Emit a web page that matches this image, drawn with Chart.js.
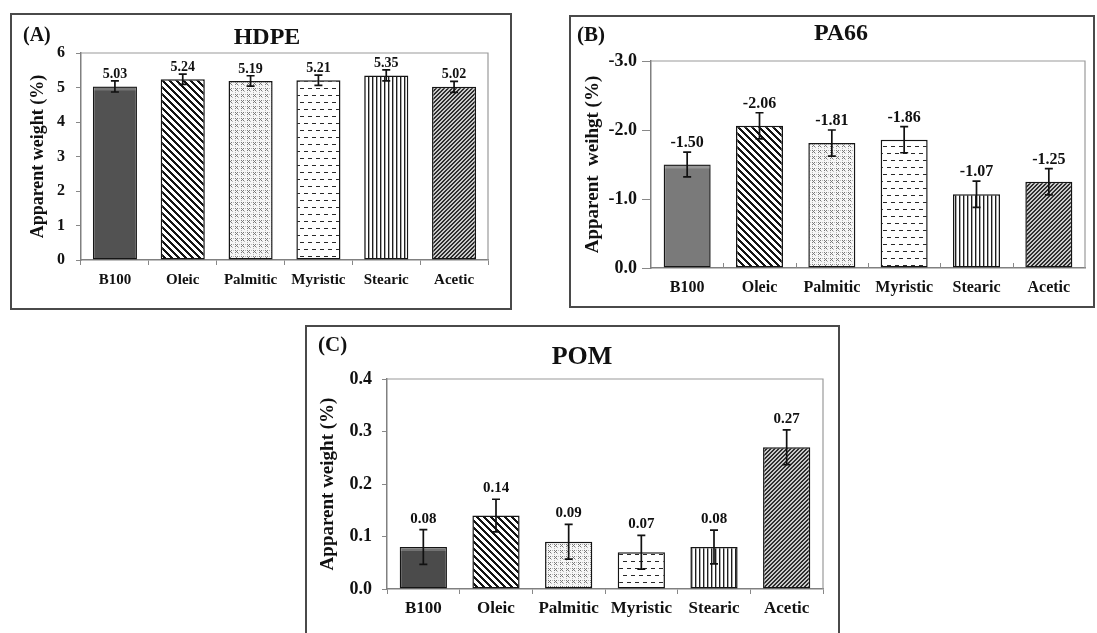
<!DOCTYPE html>
<html>
<head>
<meta charset="utf-8">
<script src="https://cdn.jsdelivr.net/npm/chart.js@4.4.1/dist/chart.umd.min.js"></script>
<style>
  html, body { margin: 0; padding: 0; background: #fff; width: 1097px; height: 633px; overflow: hidden; }
  .panel { position: absolute; box-sizing: border-box; border: 2px solid #4a4a4a; background: #fff; }
  .panel canvas { position: absolute; left: 0; top: 0; }
</style>
</head>
<body>
<div class="panel" style="left:10px;top:13px;width:502px;height:297px"><canvas id="cA" width="498" height="293" style="width:498px;height:293px"></canvas></div>
<div class="panel" style="left:569px;top:15px;width:526px;height:293px"><canvas id="cB" width="522" height="289" style="width:522px;height:289px"></canvas></div>
<div class="panel" style="left:305px;top:325px;width:535px;height:330px"><canvas id="cC" width="531" height="326" style="width:531px;height:326px"></canvas></div>
<script>
// ---- data ----
const categories = ['B100', 'Oleic', 'Palmitic', 'Myristic', 'Stearic', 'Acetic'];

const hdpeValues = [5.03, 5.24, 5.19, 5.21, 5.35, 5.02];
const hdpeErrors = [0.16, 0.15, 0.15, 0.15, 0.16, 0.16];
const hdpeTicks  = [0, 1, 2, 3, 4, 5, 6];

const pa66Values = [-1.50, -2.06, -1.81, -1.86, -1.07, -1.25];
const pa66Errors = [0.18, 0.19, 0.19, 0.19, 0.19, 0.19];
const pa66Ticks  = [-3.0, -2.0, -1.0, 0.0];

const pomValues = [0.08, 0.14, 0.09, 0.07, 0.08, 0.27];
const pomErrors = [0.033, 0.031, 0.033, 0.032, 0.032, 0.033];
const pomTicks  = [0.0, 0.1, 0.2, 0.3, 0.4];

const SERIF = '"Liberation Serif", "Times New Roman", serif';

// ---- fill patterns for the bars ----
function tile(w, h, paint) {
  const c = document.createElement('canvas');
  c.width = w; c.height = h;
  const g = c.getContext('2d');
  paint(g, w, h);
  return c.getContext('2d').createPattern(c, 'repeat');
}
function pixelTile(w, h, fn) {
  return tile(w, h, (g) => {
    const img = g.createImageData(w, h);
    for (let y = 0; y < h; y++) for (let x = 0; x < w; x++) {
      const v = fn(x, y);
      const k = (y * w + x) * 4;
      img.data[k] = img.data[k + 1] = img.data[k + 2] = v; img.data[k + 3] = 255;
    }
    g.putImageData(img, 0, 0);
  });
}
function makeFills(solid) {
  const wideStripes = pixelTile(7, 7, (x, y) => (((x - y) % 7 + 7) % 7) < 3 ? 20 : 255);
  const crosses = pixelTile(6, 6, (x, y) => {
    const onX = (x === y || x + y === 4) && x >= 1 && x <= 3 && y >= 1 && y <= 3;
    if (onX) return 120;
    if ((x === 4 && y === 4) || (x === 5 && y === 1) || (x === 1 && y === 5)) return 185;
    return 246;
  });
  const dashes = pixelTile(8, 14, (x, y) => {
    if (y === 3 && x < 4) return 40;
    if (y === 10 && x >= 4) return 40;
    return 255;
  });
  const verticals = pixelTile(4, 4, (x) => x === 0 ? 30 : (x === 1 ? 170 : 255));
  const fineHatch = pixelTile(4, 4, (x, y) => ((x + y) % 4) < 2 ? 45 : 200);
  return [solid, wideStripes, crosses, dashes, verticals, fineHatch];
}

// ---- plugins ----
const errorBars = {
  id: 'errorBars',
  afterDatasetsDraw(chart, args, opts) {
    const { ctx } = chart;
    const yScale = chart.scales.y;
    const ds = chart.data.datasets[0];
    const meta = chart.getDatasetMeta(0);
    ctx.save();
    // soft highlight along the top of the solid bar
    const first = meta.data[0];
    if (first) {
      const top = Math.min(first.y, first.base);
      const half = first.width / 2;
      ctx.fillStyle = 'rgba(255,255,255,0.22)';
      ctx.fillRect(first.x - half + 1, top + 1, first.width - 2, 3);
    }
    meta.data.forEach((bar, i) => {
      const v = ds.data[i], e = opts.errors[i];
      const p1 = yScale.getPixelForValue(v + e);
      const p2 = yScale.getPixelForValue(v - e);
      const top = Math.min(p1, p2), bot = Math.max(p1, p2);
      ctx.strokeStyle = '#111';
      ctx.lineWidth = 1.7;
      ctx.beginPath();
      ctx.moveTo(bar.x, top); ctx.lineTo(bar.x, bot);
      ctx.moveTo(bar.x - opts.cap, top); ctx.lineTo(bar.x + opts.cap, top);
      ctx.moveTo(bar.x - opts.cap, bot); ctx.lineTo(bar.x + opts.cap, bot);
      ctx.stroke();
      ctx.fillStyle = '#111';
      ctx.font = 'bold ' + opts.fontSize + 'px ' + SERIF;
      ctx.textAlign = 'center';
      ctx.textBaseline = 'alphabetic';
      ctx.fillText(v.toFixed(2), bar.x, top - opts.gap);
    });
    ctx.restore();
  }
};

const plotFrame = {
  id: 'plotFrame',
  afterDraw(chart, args, opts) {
    const { ctx, chartArea: a } = chart;
    ctx.save();
    ctx.strokeStyle = '#9a9a9a';
    ctx.lineWidth = 1.2;
    ctx.beginPath();
    ctx.moveTo(a.left, a.top); ctx.lineTo(a.right, a.top); ctx.lineTo(a.right, a.bottom);
    ctx.stroke();
    if (opts.innerTicks) {
      const x = chart.scales.x;
      const n = chart.data.labels.length;
      const step = (a.right - a.left) / n;
      ctx.strokeStyle = '#888';
      ctx.lineWidth = 1;
      ctx.beginPath();
      for (let k = 1; k < n; k++) {
        const px = Math.round(x.getPixelForValue(k) - step / 2) + 0.5;
        ctx.moveTo(px, a.bottom); ctx.lineTo(px, a.bottom - 5);
      }
      ctx.stroke();
    }
    ctx.restore();
  }
};

const panelText = {
  id: 'panelText',
  afterDraw(chart, args, opts) {
    const { ctx } = chart;
    ctx.save();
    ctx.fillStyle = '#111';
    ctx.textBaseline = 'middle';
    ctx.font = 'bold ' + opts.letterSize + 'px ' + SERIF;
    ctx.textAlign = 'left';
    ctx.fillText(opts.letter, opts.letterX, opts.letterY);
    ctx.font = 'bold ' + opts.titleSize + 'px ' + SERIF;
    ctx.textAlign = 'center';
    ctx.fillText(opts.title, opts.titleX, opts.titleY);
    ctx.restore();
  }
};

// ---- panel builder ----
function buildPanel(canvasId, cfg) {
  const ctx = document.getElementById(canvasId).getContext('2d');
  return new Chart(ctx, {
    type: 'bar',
    data: {
      labels: categories,
      datasets: [{
        data: cfg.values,
        backgroundColor: makeFills(cfg.solid),
        borderColor: '#151515',
        borderWidth: 1.5,
        borderSkipped: false,
        categoryPercentage: 1,
        barPercentage: 0.65
      }]
    },
    options: {
      responsive: false,
      animation: false,
      layout: { padding: { left: 0, top: cfg.padTop, right: cfg.padRight, bottom: 0 } },
      plugins: {
        legend: { display: false },
        tooltip: { enabled: false },
        errorBars: { errors: cfg.errors, cap: 4, gap: cfg.valueGap, fontSize: cfg.valueSize },
        plotFrame: { innerTicks: cfg.innerTicks },
        panelText: cfg.text
      },
      scales: {
        x: {
          afterFit: (s) => { s.height = cfg.xHeight; },
          grid: {
            offset: true, drawOnChartArea: false,
            drawTicks: !cfg.innerTicks, tickLength: 5, color: '#888', lineWidth: 1
          },
          border: { display: true, color: '#808080', width: 1.5 },
          ticks: {
            color: '#111', padding: cfg.xPad, maxRotation: 0, autoSkip: false,
            font: { family: SERIF, weight: 'bold', size: cfg.xSize }
          }
        },
        y: {
          min: Math.min(...cfg.ticks),
          max: Math.max(...cfg.ticks),
          reverse: cfg.reverse,
          afterFit: (s) => { s.width = cfg.yWidth; },
          afterBuildTicks: (s) => { s.ticks = cfg.ticks.map(v => ({ value: v })); },
          grid: { drawOnChartArea: false, drawTicks: true, tickLength: cfg.yTickLen, color: '#888', lineWidth: 1 },
          border: { display: true, color: '#808080', width: 1.5 },
          ticks: {
            color: '#111', padding: cfg.yPad,
            font: { family: SERIF, weight: 'bold', size: cfg.ySize },
            callback: (v) => v.toFixed(cfg.decimals)
          },
          title: {
            display: true, text: cfg.yTitle, color: '#111',
            font: { family: SERIF, weight: 'bold', size: cfg.yTitleSize },
            padding: { top: cfg.yTitlePad, bottom: 0 }
          }
        }
      }
    },
    plugins: [errorBars, plotFrame, panelText]
  });
}

buildPanel('cA', {
  values: hdpeValues, errors: hdpeErrors, ticks: hdpeTicks, reverse: false, decimals: 0,
  solid: '#525252',
  padTop: 38, padRight: 22, yWidth: 69, xHeight: 48,
  xSize: 15, xPad: 6, ySize: 16, yPad: 11, yTickLen: 5,
  yTitle: 'Apparent weight (%)', yTitleSize: 18, yTitlePad: 16,
  valueSize: 14, valueGap: 3, innerTicks: false,
  text: { letter: '(A)', letterSize: 20, letterX: 11, letterY: 21, title: 'HDPE', titleSize: 24, titleX: 255, titleY: 23 }
});

buildPanel('cB', {
  values: pa66Values, errors: pa66Errors, ticks: pa66Ticks, reverse: true, decimals: 1,
  solid: '#7a7a7a',
  padTop: 44, padRight: 8, yWidth: 80, xHeight: 38,
  xSize: 16, xPad: 10, ySize: 18, yPad: 5, yTickLen: 9,
  yTitle: 'Apparent  weihgt (%)', yTitleSize: 19, yTitlePad: 10.6,
  valueSize: 16, valueGap: 5, innerTicks: true,
  text: { letter: '(B)', letterSize: 21, letterX: 6, letterY: 19, title: 'PA66', titleSize: 24, titleX: 270, titleY: 17 }
});

buildPanel('cC', {
  values: pomValues, errors: pomErrors, ticks: pomTicks, reverse: false, decimals: 1,
  solid: '#4b4b4b',
  padTop: 52, padRight: 15, yWidth: 80, xHeight: 64,
  xSize: 17, xPad: 4, ySize: 18, yPad: 10, yTickLen: 5,
  yTitle: 'Apparent weight (%)', yTitleSize: 19, yTitlePad: 9.6,
  valueSize: 15, valueGap: 7, innerTicks: false,
  text: { letter: '(C)', letterSize: 21, letterX: 11, letterY: 19, title: 'POM', titleSize: 26, titleX: 275, titleY: 30 }
});
</script>
</body>
</html>
